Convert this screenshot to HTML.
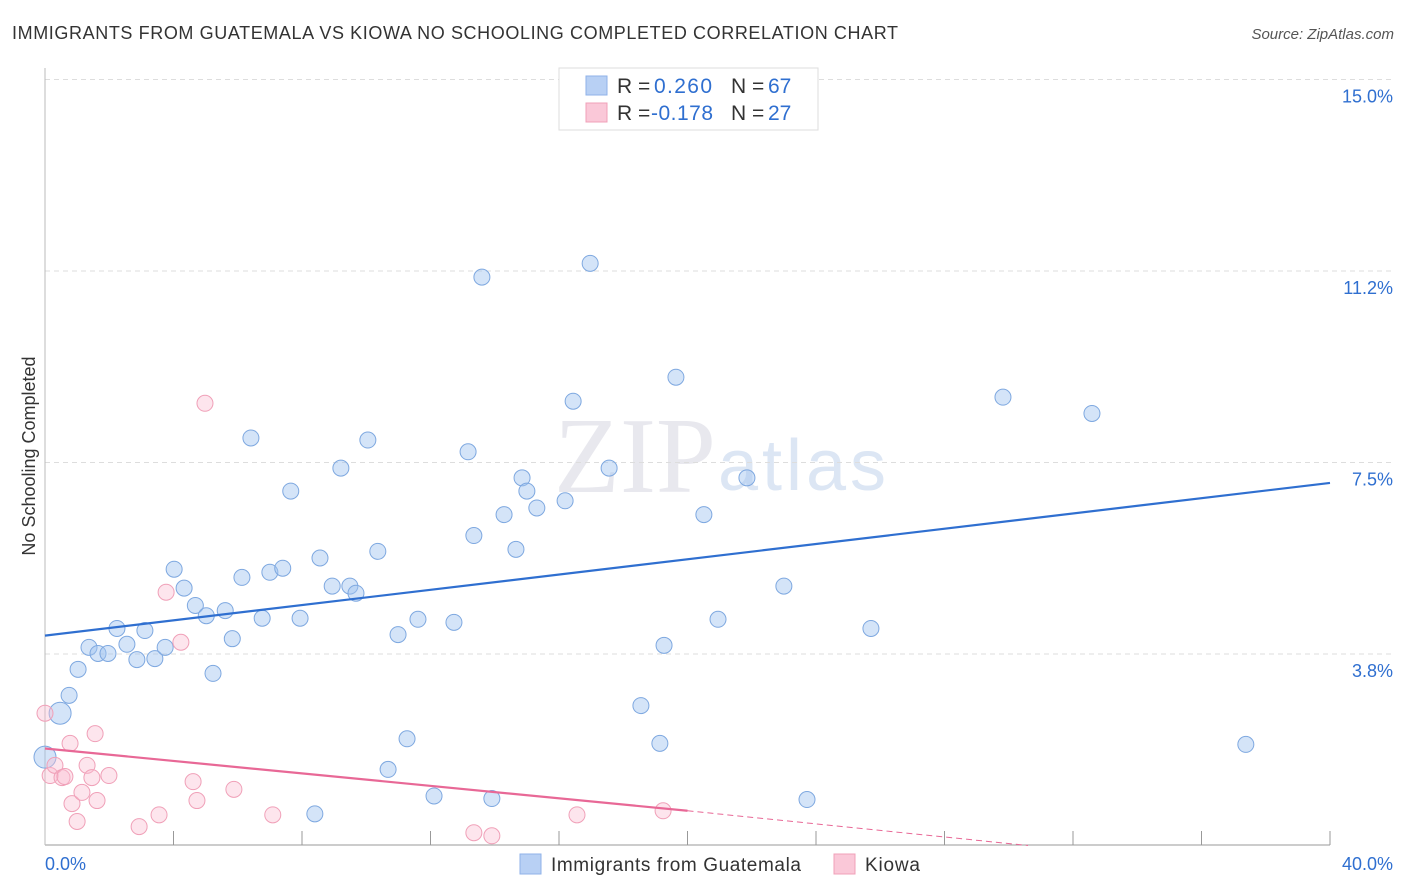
<!DOCTYPE html>
<html><head><meta charset="utf-8"><style>
body{margin:0;background:#fff;font-family:"Liberation Sans",sans-serif;}
#wrap{position:relative;width:1406px;height:892px;overflow:hidden;}
</style></head><body><div id="wrap">
<svg id="svg" width="1406" height="892" xmlns="http://www.w3.org/2000/svg">
<text x="12" y="39" font-size="18" fill="#333" textLength="886">IMMIGRANTS FROM GUATEMALA VS KIOWA NO SCHOOLING COMPLETED CORRELATION CHART</text>
<text x="1394" y="39" font-size="15" fill="#555" font-style="italic" text-anchor="end">Source: ZipAtlas.com</text>
<text x="35" y="456" font-size="18" fill="#333" text-anchor="middle" transform="rotate(-90 35 456)">No Schooling Completed</text>
<text x="716" y="492" font-size="108" fill="#e8e8ee" font-family="Liberation Serif" text-anchor="end">ZIP</text>
<text x="718" y="490" font-size="72" fill="#dce6f4" textLength="168">atlas</text>
<g id="grid"></g><g id="marks"></g>
<g>
<rect x="559" y="68" width="259" height="62" fill="#fff" stroke="#ddd"/>
<rect x="586" y="76" width="21" height="19" fill="#b8d0f4" stroke="#8fb2e8"/>
<rect x="586" y="103" width="21" height="19" fill="#fac8d8" stroke="#f0a0b8"/>
<text x="617" y="93" font-size="21" fill="#333">R = <tspan x="654" fill="#2f6fd0" textLength="58">0.260</tspan><tspan x="731">N = </tspan><tspan x="768" fill="#2f6fd0">67</tspan></text>
<text x="617" y="120" font-size="21" fill="#333">R = <tspan x="651" fill="#2f6fd0" textLength="62">-0.178</tspan><tspan x="731">N = </tspan><tspan x="768" fill="#2f6fd0">27</tspan></text>
</g>
<g>
<rect x="520" y="854" width="21" height="20" fill="#b8d0f4" stroke="#8fb2e8"/>
<text x="551" y="871" font-size="19" fill="#333" textLength="250">Immigrants from Guatemala</text>
<rect x="834" y="854" width="21" height="20" fill="#fac8d8" stroke="#f0a0b8"/>
<text x="865" y="871" font-size="19" fill="#333" textLength="55">Kiowa</text>
</g>
</svg>
<script>
const xTicks=[0,40];
const yTicks=[3.75,7.5,11.25,15];
const yTickLabels=["3.8%","7.5%","11.2%","15.0%"];
const guatX=[0.47,0,0.75,1.03,1.37,1.65,1.96,2.24,2.55,2.86,3.11,3.42,3.74,4.02,4.33,4.68,5.02,5.61,5.83,5.23,6.13,6.41,6.76,7.0,7.4,7.65,7.94,8.56,8.94,9.21,9.49,9.68,10.05,10.36,10.99,11.27,11.61,10.68,12.11,12.73,13.17,13.35,13.6,13.91,14.29,14.66,14.85,15.0,15.31,16.19,16.44,16.97,17.56,18.55,19.14,19.27,19.64,20.51,20.95,21.85,23.0,23.72,25.71,29.82,32.59,37.38,8.4];
const guatY=[2.59,1.73,2.94,3.45,3.88,3.76,3.76,4.25,3.94,3.64,4.21,3.66,3.88,5.41,5.04,4.7,4.5,4.6,4.05,3.37,5.25,7.98,4.45,5.35,5.43,6.94,4.45,5.63,5.08,7.39,5.08,4.94,7.94,5.76,4.13,2.09,4.43,1.49,0.97,4.37,7.71,6.07,11.13,0.92,6.48,5.8,7.2,6.94,6.61,6.75,8.7,11.4,7.39,2.74,2.0,3.92,9.17,6.48,4.43,7.2,5.08,0.9,4.25,8.78,8.46,1.98,0.62];
const kiowaX=[0,0.16,0.31,0.53,0.78,0.84,1.0,1.15,1.31,1.46,1.56,1.62,1.99,2.93,3.55,3.77,4.23,4.61,4.73,4.98,5.88,7.09,13.35,13.91,16.56,19.24,0.62];
const kiowaY=[2.59,1.37,1.57,1.33,2.0,0.82,0.47,1.04,1.57,1.33,2.19,0.88,1.37,0.37,0.6,4.96,3.98,1.25,0.88,8.66,1.1,0.6,0.25,0.19,0.6,0.68,1.35];
const blueLine=[[0,4.11],[40,7.1]];
const pinkLine=[[0,1.9],[20,0.68],[30.6,0]];
const X=v=>45+v/40*1285, Y=v=>845.5-v/3.75*191.5;
const NS="http://www.w3.org/2000/svg";
const grid=document.getElementById('grid'), marks=document.getElementById('marks');
function mk(tag,at,parent){const e=document.createElementNS(NS,tag);for(const k in at)e.setAttribute(k,at[k]);parent.appendChild(e);return e;}
yTicks.forEach((t,i)=>{
 const l=mk('line',{x1:45,x2:1394,y1:Y(t),y2:Y(t),stroke:'#ddd','stroke-dasharray':'5,4'},grid);
 
 
 const tx=mk('text',{x:1393,y:Y(t)+23,'font-size':18,fill:'#2f6fd0','text-anchor':'end'},grid);
 tx.textContent=yTickLabels[i];
 
 
});
const ax=mk('line',{x1:45,x2:1330,y1:845,y2:845,stroke:'#999'},grid);


const ay=mk('line',{x1:45,x2:45,y1:68,y2:845,stroke:'#bbb'},grid);


for(let i=1;i<=10;i++){const t=mk('line',{x1:X(i*4),x2:X(i*4),y1:831,y2:845,stroke:'#999'},grid);
 
 }
xTicks.forEach(t=>{const tx=mk('text',{x:t===0?45:1393,y:870,'font-size':18,fill:'#2f6fd0','text-anchor':t===0?'start':'end'},grid);
 tx.textContent=t.toFixed(1)+'%';
 
 });
guatX.forEach((x,i)=>{const r=i<2?11:8;const c=mk('circle',{cx:X(x),cy:Y(guatY[i]),r:r,fill:'rgba(160,195,240,0.45)',stroke:'#7ea8e0','stroke-width':1},marks);
 
 });
kiowaX.forEach((x,i)=>{const c=mk('circle',{cx:X(x),cy:Y(kiowaY[i]),r:8,fill:'rgba(250,190,210,0.4)',stroke:'#f0a0b8','stroke-width':1},marks);
 
 });
const bl=mk('line',{x1:X(blueLine[0][0]),y1:Y(blueLine[0][1]),x2:X(blueLine[1][0]),y2:Y(blueLine[1][1]),stroke:'#2f6fd0','stroke-width':2.2},marks);


const pl=mk('line',{x1:X(pinkLine[0][0]),y1:Y(pinkLine[0][1]),x2:X(pinkLine[1][0]),y2:Y(pinkLine[1][1]),stroke:'#e86896','stroke-width':2.2},marks);


const pd=mk('line',{x1:X(pinkLine[1][0]),y1:Y(pinkLine[1][1]),x2:X(pinkLine[2][0]),y2:Y(pinkLine[2][1]),stroke:'#e86896','stroke-width':1,'stroke-dasharray':'6,4'},marks);


</script></div></body></html>
